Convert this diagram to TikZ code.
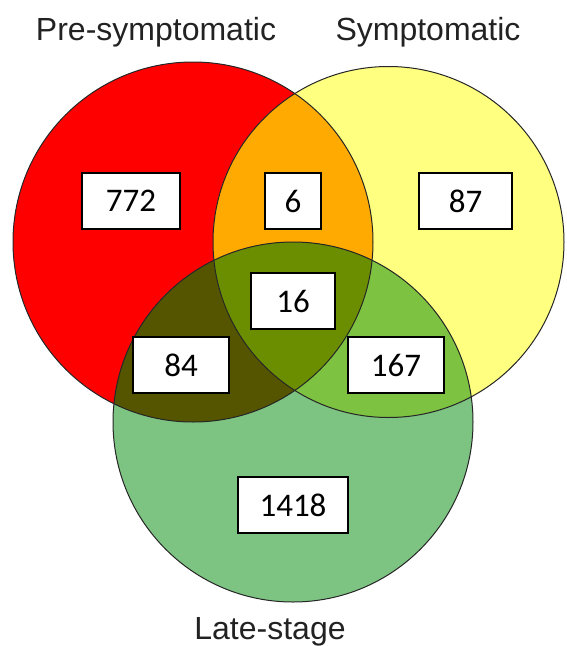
\documentclass[tikz,border=0pt]{standalone}
\usepackage{fontspec}
\setmainfont{Liberation Sans}
\newfontfamily\numfont{Carlito}
\definecolor{setred}{HTML}{FF0000}
\definecolor{setyellow}{HTML}{FFFF80}
\definecolor{setgreen}{HTML}{7DC382}
\definecolor{redyellow}{HTML}{FFAA00}
\definecolor{redgreen}{HTML}{555500}
\definecolor{yellowgreen}{HTML}{7DC241}
\definecolor{allthree}{HTML}{6B8E00}
\definecolor{labelgray}{HTML}{222222}
\tikzset{
  countbox/.style={draw=black, line width=2pt, fill=white, inner sep=0pt,
    minimum height=56pt, font=\numfont\fontsize{33}{36}\selectfont},
  setlabel/.style={anchor=base, text=labelgray, font=\fontsize{32}{38}\selectfont},
  rim/.style={draw=black!85, line width=1pt}
}
\begin{document}
\begin{tikzpicture}[x=1pt, y=-1pt]
\useasboundingbox (0,0) rectangle (566,646);
% circle geometry
\def\redc{(193,242) circle[radius=180]}
\def\yelc{(388.5,242) circle[radius=175.5]}
\def\grnc{(293,422) circle[radius=180]}
% single sets
\fill[setred] \redc;
\fill[setyellow] \yelc;
\fill[setgreen] \grnc;
% pairwise overlaps
\begin{scope}
  \clip \redc;
  \fill[redyellow] \yelc;
\end{scope}
\begin{scope}
  \clip \grnc;
  \fill[redgreen] \redc;
  \fill[yellowgreen] \yelc;
  \clip \redc;
  \fill[allthree] \yelc;
\end{scope}
% outlines
\draw[rim] \redc;
\draw[rim] \yelc;
\draw[rim] \grnc;
% set names
\node[setlabel] (lpre) at (156,40) {Pre-symptomatic};
\node[setlabel] (lsym) at (428,40) {Symptomatic};
\node[setlabel] (llate) at (270,639) {Late-stage};
% region counts
\node[countbox, minimum width=98pt] (n772) at (131,201) {772};
\node[countbox, minimum width=56pt] (n6) at (293,201) {6};
\node[countbox, minimum width=93pt] (n87) at (465.5,201) {87};
\node[countbox, minimum width=84pt] (n16) at (293,301) {16};
\node[countbox, minimum width=96pt] (n84) at (181,365) {84};
\node[countbox, minimum width=96pt] (n167) at (396,365) {167};
\node[countbox, minimum width=110pt] (n1418) at (293,505) {1418};
\end{tikzpicture}
\end{document}
